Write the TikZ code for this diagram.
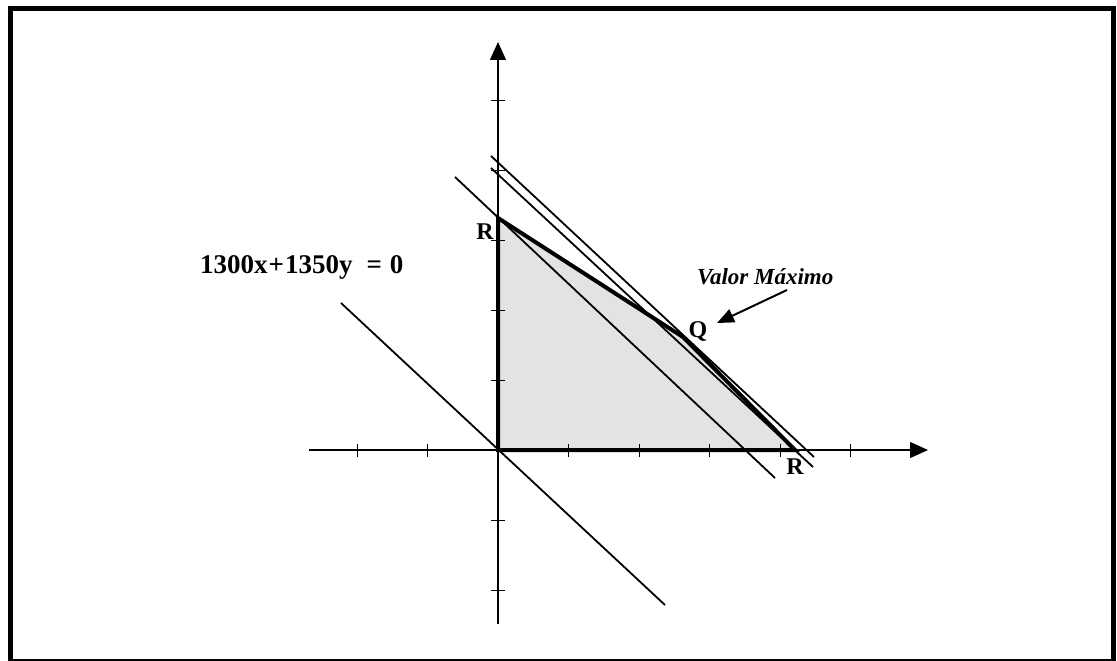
\documentclass[tikz,border=0pt]{standalone}
\usepackage{fontspec}
\setmainfont{Liberation Serif}
\usetikzlibrary{arrows.meta}
\begin{document}
\begin{tikzpicture}[x=1pt,y=-1pt,
  axisline/.style={line width=1.3pt,-{Triangle[length=18pt,width=16pt]}},
  tickmark/.style={line width=1pt},
  thinline/.style={line width=1.8pt},
  regionfill/.style={fill=black!11},
  regionedge/.style={line width=4pt,line join=miter},
  lbl/.style={font=\bfseries\fontsize{24}{24}\selectfont,inner sep=0pt},
  eqlbl/.style={font=\bfseries\fontsize{27}{27}\selectfont,inner sep=0pt,anchor=base west},
  vmlbl/.style={font=\bfseries\itshape\fontsize{23}{23}\selectfont,inner sep=0pt,anchor=base west},
  pointer/.style={line width=2pt,-{Triangle[length=17pt,width=14pt]}}]
\useasboundingbox (0,0) rectangle (1117,661);
\draw[line width=5pt] (10.5,8.5) rectangle (1113,661.5);
% key points
\coordinate (O) at (498,450);
\coordinate (Rt) at (498,218);
\coordinate (K) at (683,337);
\coordinate (Rr) at (795,450);
% region
\fill[regionfill] (O) -- (Rt) -- (K) -- (Rr) -- cycle;
% axes
\coordinate (xs) at (309,450);
\coordinate (xe) at (928,450);
\coordinate (ys) at (498,624);
\coordinate (ye) at (498,42);
\draw[axisline] (xs) -- (xe);
\draw[axisline] (ys) -- (ye);
% ticks
\foreach \tx in {357,427.5,568.5,639,709.5,780,850.5}
  \draw[tickmark] (\tx,443.5) -- (\tx,456.5);
\foreach \ty in {100,170,240,310,380,520,590}
  \draw[tickmark] (491,\ty) -- (505,\ty);
% objective lines
\coordinate (a0) at (341,303); \coordinate (b0) at (665,605);
\coordinate (a1) at (455,177); \coordinate (b1) at (775,478);
\coordinate (a2) at (491,156); \coordinate (b2) at (814,457);
\coordinate (a3) at (491,168); \coordinate (b3) at (813,467);
\draw[thinline] (a0) -- (b0);
\draw[thinline] (a1) -- (b1);
\draw[thinline] (a2) -- (b2);
\draw[thinline] (a3) -- (b3);
% region outline
\draw[regionedge] (O) -- (Rt) -- (K) -- (Rr) -- cycle;
% labels
\node[lbl] (lR1) at (485,232) {R};
\node[lbl] (lQ) at (698,331) {Q};
\node[lbl] (lR2) at (795,467) {R};
\node[eqlbl] (eq) at (200,273) {1300x\hspace{1pt}+\hspace{1pt}1350y\hspace{14pt}=\hspace{8pt}0};
\node[vmlbl] (vm) at (697,284) {Valor Máximo};
\coordinate (ptail) at (787,290);
\coordinate (phead) at (717,323);
\draw[pointer] (ptail) -- (phead);
\end{tikzpicture}
\end{document}
